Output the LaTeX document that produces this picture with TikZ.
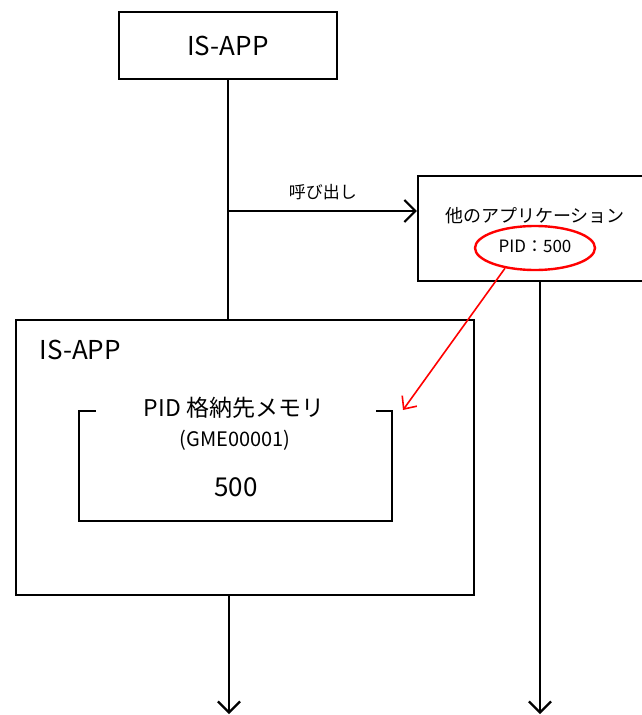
\documentclass[tikz,border=0pt]{standalone}
\usepackage{fontspec}
\setmainfont{Noto Sans CJK JP}
\usepackage{xcolor}
\usepackage{tikz}
\usetikzlibrary{arrows.meta,positioning,shapes.geometric,calc}
\definecolor{inkblack}{HTML}{000000}
\definecolor{markred}{HTML}{FF0000}

\begin{document}
\begin{tikzpicture}[
    x=1pt,y=-1pt,
    box/.style={draw=inkblack,line width=2.2pt,fill=white,align=center,inner sep=0pt},
    line/.style={draw=inkblack,line width=2.2pt},
    arrow/.style={-{Straight Barb[length=11pt,width=22pt,line width=2.2pt]},line width=2.2pt,draw=inkblack},
    ring/.style={ellipse,draw=markred,line width=2.4pt,minimum width=120pt,minimum height=44pt,inner sep=0pt},
    redarrow/.style={-{Straight Barb[length=10pt,width=18pt,line width=1.6pt]},line width=1.6pt,draw=markred}
  ]
    \useasboundingbox (0,0) rectangle (641,715);

    % top process and the called application
    \node[box,minimum width=218pt,minimum height=67pt,font=\fontsize{26}{30}\selectfont] (topapp) at (228,45.5) {IS-APP};
    \node[box,minimum width=234pt,minimum height=105pt] (other) at (535,228.5) {};
    \node[font=\fontsize{18}{21}\selectfont] (otherlbl) at (535,216) {他のアプリケーション};
    \node[font=\fontsize{17}{20}\selectfont] (pidlbl) at (535,246) {PID：500};
    \node[ring] (pidring) at (535,248) {};

    % lower process with its memory
    \node[box,minimum width=458pt,minimum height=275pt] (isapp) at (245,457.5) {};
    \node[anchor=west,font=\fontsize{26}{30}\selectfont] (isapplbl) at (36,350) {IS-APP};
    \node[minimum width=313pt,minimum height=110pt,inner sep=0pt] (memory) at (235.5,466) {};
    \draw[line] ($(memory.north west)+(17,0)$) -- (memory.north west) -- (memory.south west)
      -- (memory.south east) -- (memory.north east) -- ++(-16,0);
    \node[font=\fontsize{23}{27}\selectfont] (memtitle) at (234,408) {PID 格納先メモリ};
    \node[font=\fontsize{20}{24}\selectfont] (memid) at (235,440) {(GME00001)};
    \node[font=\fontsize{26}{30}\selectfont] (memval) at (236,487) {500};

    \coordinate (callpt) at (229,211);
    \coordinate (memhit) at (403,410);
    \coordinate (endl) at (229,714);
    \coordinate (endr) at (540,714);

    \draw[line] (topapp.south) -- (topapp.south |- isapp.north);
    \draw[arrow] (callpt) -- node[above=7pt,font=\fontsize{17}{20}\selectfont]{呼び出し} (callpt -| other.west);
    \draw[arrow] (endl |- isapp.south) -- (endl);
    \draw[arrow] (endr |- other.south) -- (endr);
    \draw[redarrow] (pidring.-146) -- (memhit);
  \end{tikzpicture}
\end{document}
